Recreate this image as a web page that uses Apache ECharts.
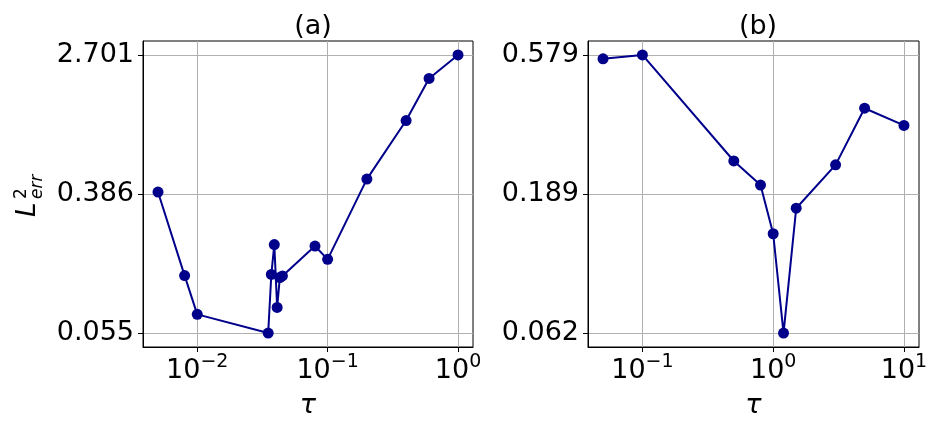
<!DOCTYPE html>
<html>
<head>
<meta charset="utf-8">
<script src="https://cdn.jsdelivr.net/npm/echarts@6/dist/echarts.min.js"></script>
<style>html,body{margin:0;padding:0;background:#fff}#c{width:936px;height:431px}</style>
</head>
<body>
<div id="c"></div>
<script>
// ---- data ----
const tauA = [0.005, 0.008, 0.01, 0.035, 0.037, 0.039, 0.041, 0.043, 0.045, 0.08, 0.1, 0.2, 0.4, 0.6, 1.0];
const errA = [0.396, 0.123, 0.0715, 0.055, 0.125, 0.190, 0.0788, 0.1197, 0.1224, 0.186, 0.1544, 0.475, 1.078, 1.943, 2.701];
const tauB = [0.05, 0.1, 0.5, 0.8, 1.0, 1.2, 1.5, 3, 5, 10];
const errB = [0.561, 0.579, 0.247, 0.2036, 0.1377, 0.062, 0.169, 0.2394, 0.3773, 0.3286];
const yTickLabelsA = ['0.055', '0.386', '2.701'];
const yTickLabelsB = ['0.062', '0.189', '0.579'];
const xTicksA = [0.01, 0.1, 1];
const xTicksB = [0.1, 1, 10];
const titles = ['(a)', '(b)'];
const xLabel = 'τ';

// ---- helpers ----
const FONT = 'DejaVu Sans';
const COLOR = '#00008b';
const FS = 27;
function logRange(vals) {
  const lo = Math.log10(Math.min(...vals)), hi = Math.log10(Math.max(...vals));
  const pad = 0.05 * (hi - lo);
  return [Math.pow(10, lo - pad), Math.pow(10, hi + pad)];
}
function nearestLabel(labels, v) {
  let best = labels[0], bd = Infinity;
  labels.forEach(l => { const d = Math.abs(Math.log10(Number(l)) - Math.log10(v)); if (d < bd) { bd = d; best = l; } });
  return best;
}
function xAxisCfg(idx, ticks, range) {
  return {
    type: 'log', gridIndex: idx, min: range[0], max: range[1], logBase: 10,
    name: xLabel, nameLocation: 'middle', nameGap: 45,
    nameTextStyle: { fontFamily: FONT, fontSize: FS, fontStyle: 'italic', color: '#000' },
    axisLine: { show: true, onZero: false, lineStyle: { color: '#000', width: 1 } },
    axisTick: { show: true, length: 5, customValues: ticks, lineStyle: { color: '#000' } },
    minorTick: { show: false },
    splitLine: { show: true, lineStyle: { color: '#b0b0b0', width: 1 } },
    axisLabel: {
      customValues: ticks, margin: 6, color: '#000',
      formatter: v => '{b|10}{s|' + String(Math.round(Math.log10(v))).replace('-', '\u2212') + '}',
      rich: {
        b: { fontFamily: FONT, fontSize: FS, color: '#000', padding: [4, 0, 0, 0] },
        s: { fontFamily: FONT, fontSize: 19, color: '#000', verticalAlign: 'top' }
      }
    }
  };
}
function yAxisCfg(idx, labels, range) {
  const vals = labels.map(Number);
  return {
    type: 'log', gridIndex: idx, min: range[0], max: range[1], logBase: 10,
    axisLine: { show: true, onZero: false, lineStyle: { color: '#000', width: 1 } },
    axisTick: { show: true, length: 5, customValues: vals, lineStyle: { color: '#000' } },
    minorTick: { show: false },
    splitLine: { show: true, lineStyle: { color: '#b0b0b0', width: 1 } },
    axisLabel: {
      customValues: vals, margin: 9, color: '#000', fontFamily: FONT, fontSize: FS,
      formatter: v => nearestLabel(labels, v)
    }
  };
}
const xrA = logRange(tauA), xrB = logRange(tauB);
const yrA = logRange(errA), yrB = logRange(errB);

const chart = echarts.init(document.getElementById('c'), null, { renderer: 'canvas' });
chart.setOption({
  animation: false,
  backgroundColor: '#fff',
  title: [
    { text: titles[0], left: 308, top: 8, textAlign: 'center', textStyle: { fontFamily: FONT, fontSize: FS, fontWeight: 'normal', color: '#000' } },
    { text: titles[1], left: 753, top: 8, textAlign: 'center', textStyle: { fontFamily: FONT, fontSize: FS, fontWeight: 'normal', color: '#000' } }
  ],
  grid: [
    { left: 143, right: 463, top: 41, bottom: 84, show: true, borderColor: '#000', borderWidth: 1, backgroundColor: 'transparent' },
    { left: 588, right: 17, top: 41, bottom: 84, show: true, borderColor: '#000', borderWidth: 1, backgroundColor: 'transparent' }
  ],
  xAxis: [xAxisCfg(0, xTicksA, xrA), xAxisCfg(1, xTicksB, xrB)],
  yAxis: [yAxisCfg(0, yTickLabelsA, yrA), yAxisCfg(1, yTickLabelsB, yrB)],
  series: [
    { type: 'line', xAxisIndex: 0, yAxisIndex: 0, data: tauA.map((t, i) => [t, errA[i]]),
      symbol: 'circle', symbolSize: 11, lineStyle: { color: COLOR, width: 2 }, itemStyle: { color: COLOR } },
    { type: 'line', xAxisIndex: 1, yAxisIndex: 1, data: tauB.map((t, i) => [t, errB[i]]),
      symbol: 'circle', symbolSize: 11, lineStyle: { color: COLOR, width: 2 }, itemStyle: { color: COLOR } }
  ],
  graphic: [{
    type: 'group', x: 37, y: 217, rotation: Math.PI / 2,
    children: [
      { type: 'text', x: 0, y: -9, style: { text: 'L', fontFamily: FONT, fontSize: 26, fontStyle: 'italic', fill: '#000', verticalAlign: 'middle', align: 'left' } },
      { type: 'text', x: 18, y: -15, style: { text: '2', fontFamily: FONT, fontSize: 17, fill: '#000', verticalAlign: 'middle', align: 'left' } },
      { type: 'text', x: 18, y: 1, style: { text: 'err', fontFamily: FONT, fontSize: 17, fontStyle: 'italic', fill: '#000', verticalAlign: 'middle', align: 'left' } }
    ]
  }]
});
</script>
</body>
</html>
